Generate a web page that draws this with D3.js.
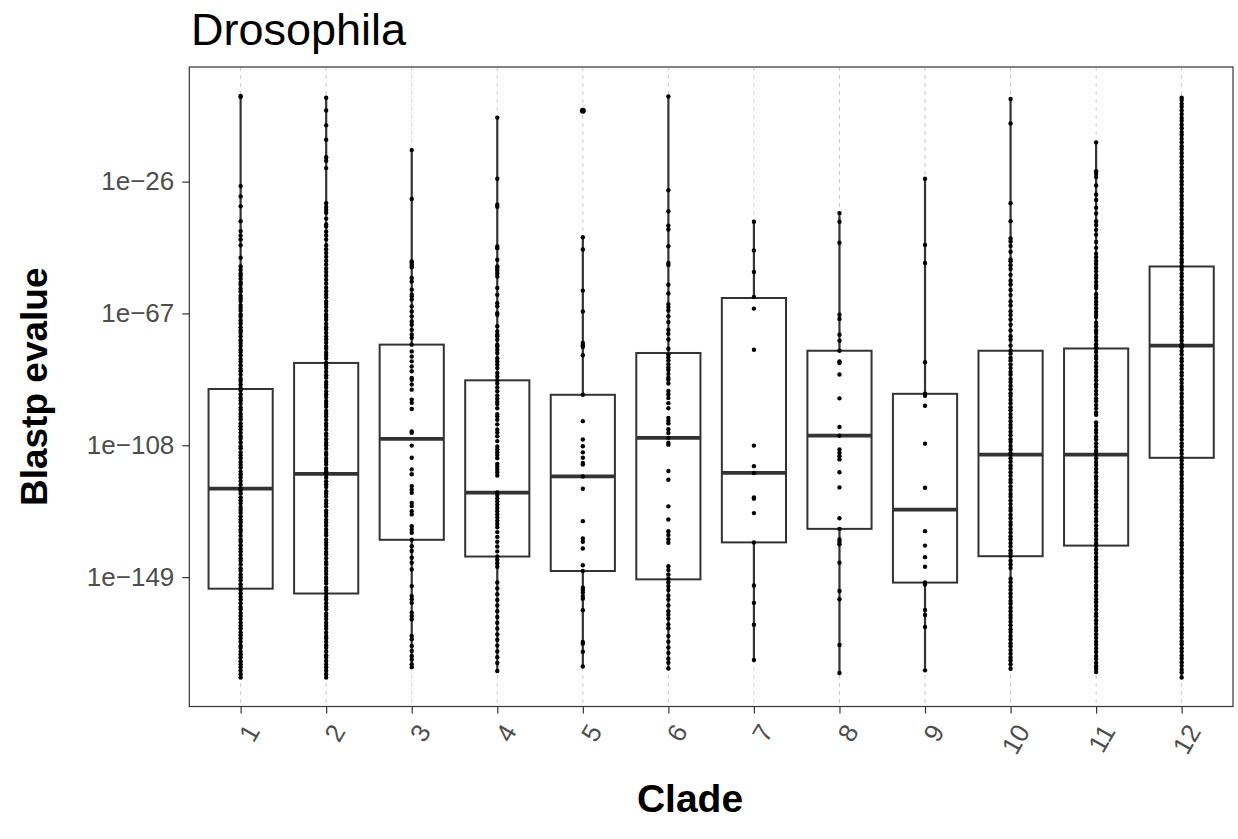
<!DOCTYPE html>
<html><head><meta charset="utf-8">
<script src="https://cdn.jsdelivr.net/npm/d3@7"></script>
<style>body{margin:0;background:#fff} text{font-family:"Liberation Sans",Arial,Helvetica,sans-serif}</style>
</head><body><svg id="chart" width="1238" height="839"></svg>
<script>
// ---- data (log10 of Blastp evalue) ----
const clades = ["1","2","3","4","5","6","7","8","9","10","11","12"];
const yTickValues = [-26, -67, -108, -149];
const yTickLabels = ["1e\u221226", "1e\u221267", "1e\u2212108", "1e\u2212149"];
const lowerWhisker = [-180.2, -180.2, -177, -178.2, -176.8, -177.4, -174.8, -178.9, -178, -177.5, -178.5, -180.2];
const lowerHinge   = [-152.6, -154.1, -137.4, -142.6, -147.1, -149.7, -138.2, -134, -150.7, -142.5, -139.2, -111.9];
const medians      = [-121.5, -116.9, -106, -122.7, -117.7, -105.7, -116.6, -105, -128, -110.9, -110.9, -77];
const upperHinge   = [-90.5, -82.4, -76.7, -87.8, -92.3, -79.3, -62.2, -78.6, -92, -78.6, -77.9, -52.4];
const upperWhisker = [0.6, 0.1, -16.2, -6.1, -43.3, 0.5, -38.5, -35.8, -25.1, -0.3, -13.8, 0.1];
const outlierClades = ["5"];
const outlierValues = [-4.0];

const points1 = [0.6,0.3,-27.4,-30.6,-33.7,-38.3,-41.4,-42.8,-44,-45.8,-49.7,-52.4,-53.5,-54.6,-55.3,-56.2,-57.4,-58.1,-59.3,-60.2,-61.5,-62.3,-63.1,-64.4,-65.2,-66.1,-67.3,-68,-69.2,-70.1,-71.3,-72.2,-73,-74.1,-75.3,-76.2,-77.1,-78.3,-79,-80.1,-81.2,-82,-83.1,-84.2,-85,-86.1,-87.3,-88,-89.1,-90.2,-91,-92.1,-93.2,-94,-95.1,-96.3,-97,-98.2,-99.1,-100,-101.2,-102.1,-103,-104.1,-105.2,-106,-107.1,-108.3,-109,-110.2,-111.1,-112,-113.2,-114.1,-115,-116.2,-117.1,-118,-119.1,-120.3,-121.5,-122.1,-123,-124.2,-125.1,-126,-127.2,-128.1,-129,-130.1,-131.2,-132,-133.1,-134.2,-135,-136.1,-137.3,-138,-139.1,-140.2,-141,-142.1,-143.2,-144,-145.1,-146.3,-147,-148.2,-149.1,-150,-151.2,-152.1,-153,-154.1,-155.2,-156,-157.1,-158.3,-159,-160.2,-161.1,-162,-163.2,-164.1,-165,-166.2,-167.1,-168,-169.1,-170.3,-171,-172.2,-173.1,-174,-175.2,-176.1,-177,-178.1,-179.2,-180.2];
const points2 = [0.1,-3.9,-8.5,-13,-18.4,-19.5,-21.8,-32.7,-33.9,-34.8,-35.7,-37.5,-39.3,-40,-41.6,-42.8,-44,-45.8,-47,-48.2,-49.4,-50.6,-51.8,-53,-54.1,-55.3,-56.5,-57.7,-59,-60.1,-61.2,-62,-63.3,-64.1,-65,-66.2,-67.4,-68.1,-69,-70.2,-71.3,-72,-73.1,-74.2,-75,-76.1,-77.3,-78,-79.2,-80.1,-81,-82.4,-83.2,-84,-85.1,-86.2,-87,-88.3,-89.1,-90,-91.2,-92.1,-93,-94.2,-95.1,-96,-97.3,-98.2,-99,-100.1,-101.2,-102,-103.1,-104.3,-105,-106.1,-107.2,-108,-109.1,-110.3,-111,-112.2,-113.1,-114,-115.2,-116.1,-116.9,-118,-119.2,-120.1,-121,-122.3,-123.1,-124,-125.2,-126.1,-127,-128.3,-129.1,-130,-131.2,-132.1,-133,-134.2,-135.1,-136,-137.3,-138.2,-139,-140.1,-141.2,-142,-143.1,-144.3,-145,-146.2,-147.1,-148,-149.2,-150.1,-151,-152.3,-153.1,-154.1,-155.2,-156,-157.1,-158.2,-159,-160.3,-161.1,-162,-163.2,-164.1,-165,-166.2,-167.3,-168,-169.1,-170.2,-171,-172.1,-173.3,-174,-175.1,-176.2,-177,-178.1,-179.2,-180.2];
const points3 = [-16.2,-31.4,-50.8,-51.3,-51.9,-52.6,-56,-57.1,-59.6,-61.2,-61.7,-62.7,-64.8,-66.4,-67.9,-69.5,-70.5,-72.1,-73.6,-74.6,-76.7,-78.8,-80.4,-81.9,-83.5,-85,-87.1,-87.6,-89.1,-90.7,-93.8,-94.8,-96.7,-103.7,-104.1,-108.1,-111.9,-115.5,-117,-120.7,-121.8,-122.8,-125.9,-126.9,-128.5,-129.5,-133.2,-134.2,-135.2,-137.4,-139.4,-140.9,-143,-144.5,-146.6,-151.8,-154.9,-155.9,-157,-160.1,-161.1,-162.1,-167.3,-168.3,-170.4,-172,-173.5,-174.6,-176.1,-177];
const points4 = [-6.1,-25.1,-33.2,-33.8,-46.2,-46.7,-50.3,-52.4,-52.9,-53.6,-54.5,-55.5,-59.1,-61.2,-63.8,-64.8,-66.9,-67.4,-71,-72.6,-73.6,-74.1,-75.2,-76.7,-77.2,-78.3,-79.3,-80.9,-81.9,-82.9,-84,-85.5,-86.6,-87.8,-88.8,-90,-91.2,-92.5,-93.5,-94.5,-95.2,-96.5,-98.3,-99,-100.1,-101.5,-103.1,-104,-105.2,-106.7,-108.4,-109.3,-110.2,-111,-112,-113.8,-114.7,-115.6,-116.5,-117.4,-122.7,-123.5,-124.5,-125.5,-126.5,-127.5,-128.5,-129.5,-130.5,-131.5,-132.5,-133.5,-135,-136.5,-138,-139.5,-141,-142.6,-143.6,-144.7,-145.8,-150.7,-152.5,-154.3,-156.1,-157.8,-159.6,-161.4,-163.2,-165,-166.8,-168.5,-170.3,-172.1,-173.9,-175.7,-178.2];
const points5 = [-4.0,-43.3,-47.1,-59.9,-66.4,-76.2,-76.9,-77.4,-80,-92.3,-100.5,-106.2,-108.3,-110.2,-111.9,-113.5,-114,-117.7,-121.5,-131.6,-137,-138,-140.1,-145.3,-147.1,-152.3,-153,-153.8,-154.9,-155.7,-159.3,-169.2,-169.7,-172.2,-176.8];
const points6 = [0.5,-28.7,-35.2,-39.7,-40.9,-46.1,-51.3,-51.9,-58.1,-60.8,-64.1,-65,-66.1,-67.9,-69.7,-72.1,-73.3,-75.1,-78,-79.8,-80.7,-81.6,-82.8,-83.8,-84.6,-85.8,-87,-87.6,-88.8,-91.1,-92.1,-93.3,-94.9,-96.5,-99.5,-100.4,-101.2,-103,-104.2,-105.7,-107.2,-107.8,-116,-118.7,-127,-131.1,-134.7,-135.9,-137.2,-138.3,-145.6,-146.8,-148.2,-149.4,-150.6,-151.8,-153,-154.8,-156,-157.8,-159.6,-160.7,-161.9,-163.7,-164.9,-167.3,-169.1,-170.9,-172.6,-174.4,-175.6,-177.4];
const points7 = [-38.5,-47.4,-54.1,-61.9,-65.5,-78.3,-108.1,-114.5,-116.6,-124.2,-124.6,-129.1,-138.2,-151.6,-157,-163.8,-174.8];
const points8 = [-35.8,-38.5,-45,-67.4,-68.7,-73.6,-75.5,-78.6,-81.9,-82.4,-86,-93.4,-102.3,-105,-109.3,-110.4,-111.4,-112.4,-116.4,-121.1,-130.7,-134,-137.3,-138.1,-138.8,-144.5,-153.3,-155.9,-170.1,-178.8];
const points9 = [-25.1,-45.7,-51.3,-82.2,-92,-92.6,-95.7,-107.5,-121.2,-134.7,-139.2,-142.8,-145.8,-150.7,-151.3,-159.2,-160.8,-164.5,-178];
const points10 = [-0.3,-7.9,-32.7,-38.3,-43.7,-44.6,-46,-47.8,-50.2,-50.8,-52,-53.2,-55,-56.8,-58,-59.7,-61.3,-63.3,-64.5,-66.3,-67.5,-68.9,-70.5,-72.3,-74.1,-75.2,-77,-78.6,-79.5,-80.8,-81.6,-82.9,-84,-85.2,-86.1,-87.4,-88.3,-89.5,-90.6,-91.8,-92.7,-93.9,-95,-96.2,-97.1,-98.3,-99.4,-100.5,-101.7,-102.6,-103.8,-104.9,-106.1,-107,-108.2,-109.3,-110.5,-110.9,-112,-113.1,-114.3,-115.2,-116.4,-117.5,-118.7,-119.6,-120.8,-121.9,-123.1,-124,-125.2,-126.3,-127.5,-128.4,-129.6,-130.7,-131.9,-132.8,-134,-135.1,-136.3,-137.2,-138.4,-139.5,-140.7,-141.6,-142.5,-143.9,-145.1,-146.2,-149.5,-150.6,-151.8,-152.9,-154.1,-155.2,-156.4,-157.3,-158.5,-159.6,-160.8,-161.7,-162.9,-164,-165.2,-166.1,-167.3,-168.4,-169.6,-170.5,-171.7,-172.8,-174,-174.9,-176.1,-177.5];
const points11 = [-13.8,-22.8,-23.6,-24.6,-27.2,-30,-31.7,-34.1,-35.9,-38.3,-39.5,-41,-42.5,-44.8,-46.6,-48.4,-49.5,-50.7,-51.6,-52.8,-53.9,-55.1,-56,-57.2,-58.3,-59.1,-61,-62.1,-63.3,-64.2,-65.4,-66.5,-67.4,-68.1,-69.9,-71,-72.2,-73.1,-74.3,-75.4,-76.6,-77.5,-77.9,-79,-80.2,-81.1,-82.3,-83.4,-84.6,-85.5,-86.7,-87.8,-89,-89.9,-91.1,-92.2,-93.4,-94.3,-95.5,-96.6,-97.8,-98.5,-100.9,-102,-103.2,-104.1,-105.3,-106.2,-107.4,-108.5,-109.7,-110.6,-110.9,-112,-113.2,-114.1,-115.3,-116.4,-117.6,-118.5,-119.7,-120.8,-122,-122.9,-124.1,-125.2,-126.4,-127.3,-128.5,-129.6,-130.8,-131.7,-132.9,-134,-135.2,-136.1,-137.3,-138.4,-139.2,-140.4,-141.5,-142.7,-143.6,-144.8,-145.9,-147.1,-148,-149.2,-150.3,-151.5,-152.4,-153.6,-154.7,-155.9,-156.8,-158,-159.1,-160.3,-161.2,-162.4,-163.5,-164.7,-165.6,-166.8,-167.9,-169.1,-170,-171.2,-172.3,-173.5,-174.4,-175.6,-176.7,-177.6,-178.5];
const points12 = [0.1,-0.6,-1.8,-2.7,-3.9,-5,-6.2,-7.1,-8.3,-9.4,-10.6,-11.5,-12.7,-13.8,-15,-15.9,-17.1,-18.2,-19.4,-20.3,-21.5,-22.6,-23.8,-24.7,-25.9,-27,-28.2,-29.1,-30.3,-31.4,-32.6,-33.5,-34.7,-35.8,-37,-37.9,-39.1,-40.2,-41.4,-42.3,-43.5,-44.6,-45.8,-46.7,-47.9,-49,-50.2,-51.1,-52.3,-52.4,-53.4,-54.6,-55.5,-56.7,-57.8,-59,-59.9,-61.1,-62.2,-63.4,-64.3,-65.5,-66.6,-67.8,-68.7,-69.9,-71,-72.2,-73.1,-74.3,-75.4,-76.6,-77,-77.5,-78.7,-79.8,-81,-81.9,-83.1,-84.2,-85.4,-86.3,-87.5,-88.6,-89.8,-90.7,-91.9,-93,-94.2,-95.1,-96.3,-97.4,-98.6,-99.5,-100.7,-101.8,-103,-103.9,-105.1,-106.2,-107.4,-108.3,-109.5,-110.6,-111.8,-112.7,-113.9,-115,-116.2,-117.1,-118.3,-119.4,-120.6,-121.5,-122.7,-123.8,-125,-125.9,-127.1,-128.2,-129.4,-130.3,-131.5,-132.6,-133.8,-134.7,-135.9,-137,-138.2,-139.1,-140.3,-141.4,-142.6,-143.5,-144.7,-145.8,-147,-147.9,-149.1,-150.2,-151.4,-152.3,-153.5,-154.6,-155.8,-156.7,-157.9,-159,-160.2,-161.1,-162.3,-163.4,-164.6,-165.5,-166.7,-167.8,-169,-169.9,-171.1,-172.2,-173.4,-174.3,-175.5,-176.6,-177.8,-178.7,-180.2];
const pointsByClade = [points1,points2,points3,points4,points5,points6,points7,points8,points9,points10,points11,points12];

// ---- layout ----
const W = 1238, H = 839;
const panel = {left: 189.3, right: 1233, top: 67, bottom: 706.5};
const svg = d3.select("#chart");
svg.append("rect").attr("width", W).attr("height", H).attr("fill", "#fff");

const allVals = pointsByClade.flat().concat(outlierValues, lowerWhisker, upperWhisker);
const vMin = d3.min(allVals), vMax = d3.max(allVals), R = vMax - vMin;
const y = d3.scaleLinear().domain([vMin - 0.05 * R, vMax + 0.05 * R]).range([panel.bottom, panel.top]);
const x = d3.scalePoint().domain(clades).range([panel.left, panel.right]).padding(0.6);
const boxW = x.step() * 0.75;

// gridlines
svg.append("g").selectAll("line").data(clades).join("line")
  .attr("x1", d => x(d)).attr("x2", d => x(d))
  .attr("y1", panel.top).attr("y2", panel.bottom)
  .attr("stroke", "#cccccc").attr("stroke-width", 1).attr("stroke-dasharray", "4,4");

const stroke = "#333333";
const boxes = svg.append("g");
clades.forEach((c, i) => {
  const cx = x(c);
  boxes.append("line").attr("x1", cx).attr("x2", cx).attr("y1", y(upperHinge[i])).attr("y2", y(upperWhisker[i]))
    .attr("stroke", stroke).attr("stroke-width", 2.2);
  boxes.append("line").attr("x1", cx).attr("x2", cx).attr("y1", y(lowerHinge[i])).attr("y2", y(lowerWhisker[i]))
    .attr("stroke", stroke).attr("stroke-width", 2.2);
  boxes.append("rect").attr("x", cx - boxW / 2).attr("width", boxW)
    .attr("y", y(upperHinge[i])).attr("height", y(lowerHinge[i]) - y(upperHinge[i]))
    .attr("fill", "#fff").attr("stroke", stroke).attr("stroke-width", 2);
  boxes.append("line").attr("x1", cx - boxW / 2).attr("x2", cx + boxW / 2).attr("y1", y(medians[i])).attr("y2", y(medians[i]))
    .attr("stroke", stroke).attr("stroke-width", 3.8);
});

// outliers
svg.append("g").selectAll("circle").data(outlierValues.map((v, i) => ({c: outlierClades[i], v}))).join("circle")
  .attr("cx", d => x(d.c)).attr("cy", d => y(d.v)).attr("r", 3).attr("fill", "#000");

// points
const pts = [];
clades.forEach((c, i) => pointsByClade[i].forEach(v => pts.push({c, v})));
svg.append("g").selectAll("circle").data(pts).join("circle")
  .attr("cx", d => x(d.c)).attr("cy", d => y(d.v)).attr("r", 2.2).attr("fill", "#000");

// panel border
svg.append("rect").attr("x", panel.left).attr("y", panel.top)
  .attr("width", panel.right - panel.left).attr("height", panel.bottom - panel.top)
  .attr("fill", "none").attr("stroke", stroke).attr("stroke-width", 1.2);

// y axis
const yAxis = d3.axisLeft(y).tickValues(yTickValues).tickFormat((d, i) => yTickLabels[i]).tickSize(7).tickPadding(8);
const gy = svg.append("g").attr("transform", `translate(${panel.left},0)`).call(yAxis);
gy.select(".domain").remove();
gy.selectAll(".tick line").attr("stroke", stroke).attr("stroke-width", 1.2);
gy.selectAll(".tick text").attr("fill", "#4d4d4d").attr("font-size", 26)
  .attr("font-family", "'Liberation Sans', Arial, sans-serif");

// x axis
const xAxis = d3.axisBottom(x).tickSize(7).tickPadding(6);
const gx = svg.append("g").attr("transform", `translate(0,${panel.bottom})`).call(xAxis);
gx.select(".domain").remove();
gx.selectAll(".tick line").attr("stroke", stroke).attr("stroke-width", 1.2);
gx.selectAll(".tick text").attr("fill", "#4d4d4d").attr("font-size", 26)
  .attr("font-family", "'Liberation Sans', Arial, sans-serif")
  .attr("text-anchor", "end").attr("dominant-baseline", "hanging")
  .attr("y", 0).attr("dy", null)
  .attr("transform", "translate(3,15) rotate(-60)");

// titles
svg.append("text").attr("x", 191).attr("y", 45).attr("font-size", 45).attr("fill", "#000").text("Drosophila");
svg.append("text").attr("x", 690).attr("y", 812).attr("text-anchor", "middle").attr("font-size", 39)
  .attr("font-weight", "bold").attr("fill", "#000").text("Clade");
svg.append("text").attr("transform", `translate(47,${(panel.top + panel.bottom) / 2}) rotate(-90)`)
  .attr("text-anchor", "middle").attr("font-size", 37).attr("font-weight", "bold").attr("fill", "#000").text("Blastp evalue");
</script></body></html>
